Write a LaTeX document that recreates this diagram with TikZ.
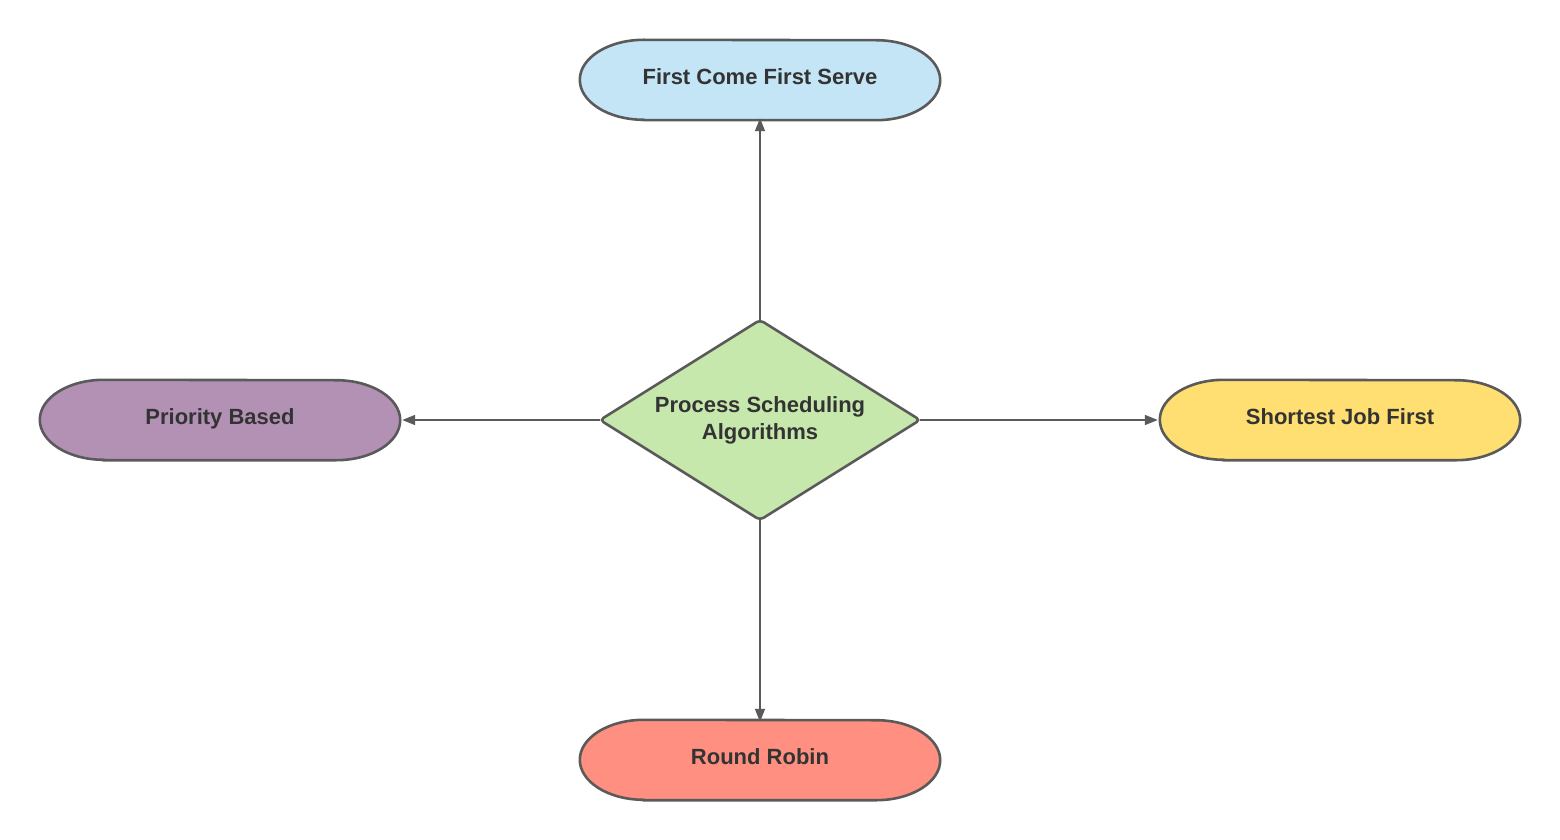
\documentclass[tikz,border=0pt]{standalone}
\usepackage{fontspec}
\setmainfont{Liberation Sans}
\usetikzlibrary{shapes.geometric,arrows.meta,backgrounds}
\definecolor{edge}{HTML}{5A5A5A}
\definecolor{txt}{HTML}{333333}
\definecolor{cblue}{HTML}{C3E5F6}
\definecolor{cpurple}{HTML}{B391B5}
\definecolor{cyellow}{HTML}{FFDF71}
\definecolor{cred}{HTML}{FF8F80}
\definecolor{cgreen}{HTML}{C7E8AC}
\tikzset{
  term/.style={rectangle,draw=none,minimum width=360pt,minimum height=80pt,inner sep=0pt,
    text height=16pt,text depth=7pt,
    font=\fontsize{22}{26}\selectfont\bfseries,text=txt},
  decide/.style={diamond,draw=edge,line width=2.6pt,fill=cgreen,minimum width=320pt,minimum height=200pt,
    aspect=1.6,inner sep=0pt,outer sep=0pt,rounded corners=4pt,align=center,
    font=\fontsize{22}{27}\selectfont\bfseries,text=txt},
  conn/.style={draw=edge,line width=1.5pt,-{Triangle[length=13pt,width=10pt]}},
  stadline/.style={draw=edge,line width=2.6pt}
}
\newcommand{\stadshape}[2]{%
  \path[stadline,fill=#2] ([xshift=64pt]#1.south west) -- ([xshift=-64pt]#1.south east)
    arc[start angle=-90,end angle=90,x radius=64pt,y radius=40pt]
    -- ([xshift=64pt]#1.north west)
    arc[start angle=90,end angle=270,x radius=64pt,y radius=40pt] -- cycle;}
\begin{document}
\begin{tikzpicture}[x=1pt,y=-1pt]
\useasboundingbox (0,0) rectangle (1560,840);
\node[term] (fcfs) at (760,80) {First Come First Serve};
\node[term] (prio) at (220,420) {Priority Based};
\node[term] (sjf) at (1340,420) {Shortest Job First};
\node[term] (rr) at (760,760) {Round Robin};
\node[decide] (psa) at (760,420) {Process Scheduling\\Algorithms};
\begin{scope}[on background layer]
\stadshape{fcfs}{cblue}
\stadshape{prio}{cpurple}
\stadshape{sjf}{cyellow}
\stadshape{rr}{cred}
\end{scope}
\draw[conn] (psa.north) -- ([yshift=2pt]fcfs.south);
\draw[conn] (psa.west) -- ([xshift=2pt]prio.east);
\draw[conn] (psa.east) -- ([xshift=-2pt]sjf.west);
\draw[conn] (psa.south) -- ([yshift=-2pt]rr.north);
\end{tikzpicture}
\end{document}
